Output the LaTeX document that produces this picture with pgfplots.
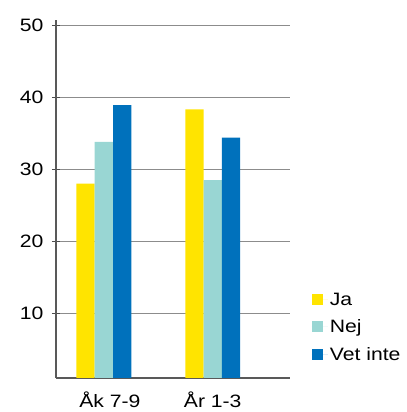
\documentclass[border=0pt]{standalone}
\usepackage{pgfplots}
\pgfplotsset{compat=1.18}
\usepackage{fontspec}
\setmainfont[FakeStretch=1.18]{Liberation Sans}
\definecolor{cja}{HTML}{FFE400}
\definecolor{cnej}{HTML}{99D6D3}
\definecolor{cvet}{HTML}{0071BC}
\begin{document}
\begin{tikzpicture}
\begin{axis}[
  name=ax,
  scale only axis,
  width=234bp, height=357.8bp,
  ymin=1, ymax=50.7,
  xmin=-0.44, xmax=1.71,
  ytick={10,20,30,40,50},
  xtick={0,1},
  xticklabels={\hspace{12bp}Åk 7-9, År 1-3},
  xtick style={draw=none},
  ytick style={draw=black!70, line width=1pt},
  tick align=outside,
  major tick length=8bp,
  axis x line=bottom, axis y line=left,
  axis line style={-, draw=black!65, line width=1.2pt},
  ymajorgrids,
  grid style={draw=black!45, line width=0.8pt},
  ybar=0pt, bar width=18.3bp,
  tick label style={font=\fontsize{18}{21}\selectfont},
  /pgf/number format/assume math mode=true,
  xticklabel style={yshift=-2bp},
  yticklabel style={xshift=-5bp},
  legend style={at={(rel axis cs:1.08,0.142)}, anchor=west, draw=none, fill=none,
    font=\fontsize{18}{21}\selectfont, row sep=9bp},
  legend cell align=left,
  legend image code/.code={\fill[#1] (0bp,-5.5bp) rectangle (11bp,5.5bp); \path (0,0) -- (16bp,0);},
]
\addplot[fill=cja, draw=none] coordinates {(0,28.0) (1,38.3)};
\addplot[fill=cnej, draw=none] coordinates {(0,33.8) (1,28.5)};
\addplot[fill=cvet, draw=none] coordinates {(0,38.9) (1,34.4)};
\legend{Ja, Nej, Vet inte}
\coordinate (o) at (rel axis cs:0,0);
\end{axis}
\pgfresetboundingbox
\path ([shift={(-56bp,-34bp)}]o) rectangle ([shift={(351bp,378bp)}]o);
\end{tikzpicture}
\end{document}
